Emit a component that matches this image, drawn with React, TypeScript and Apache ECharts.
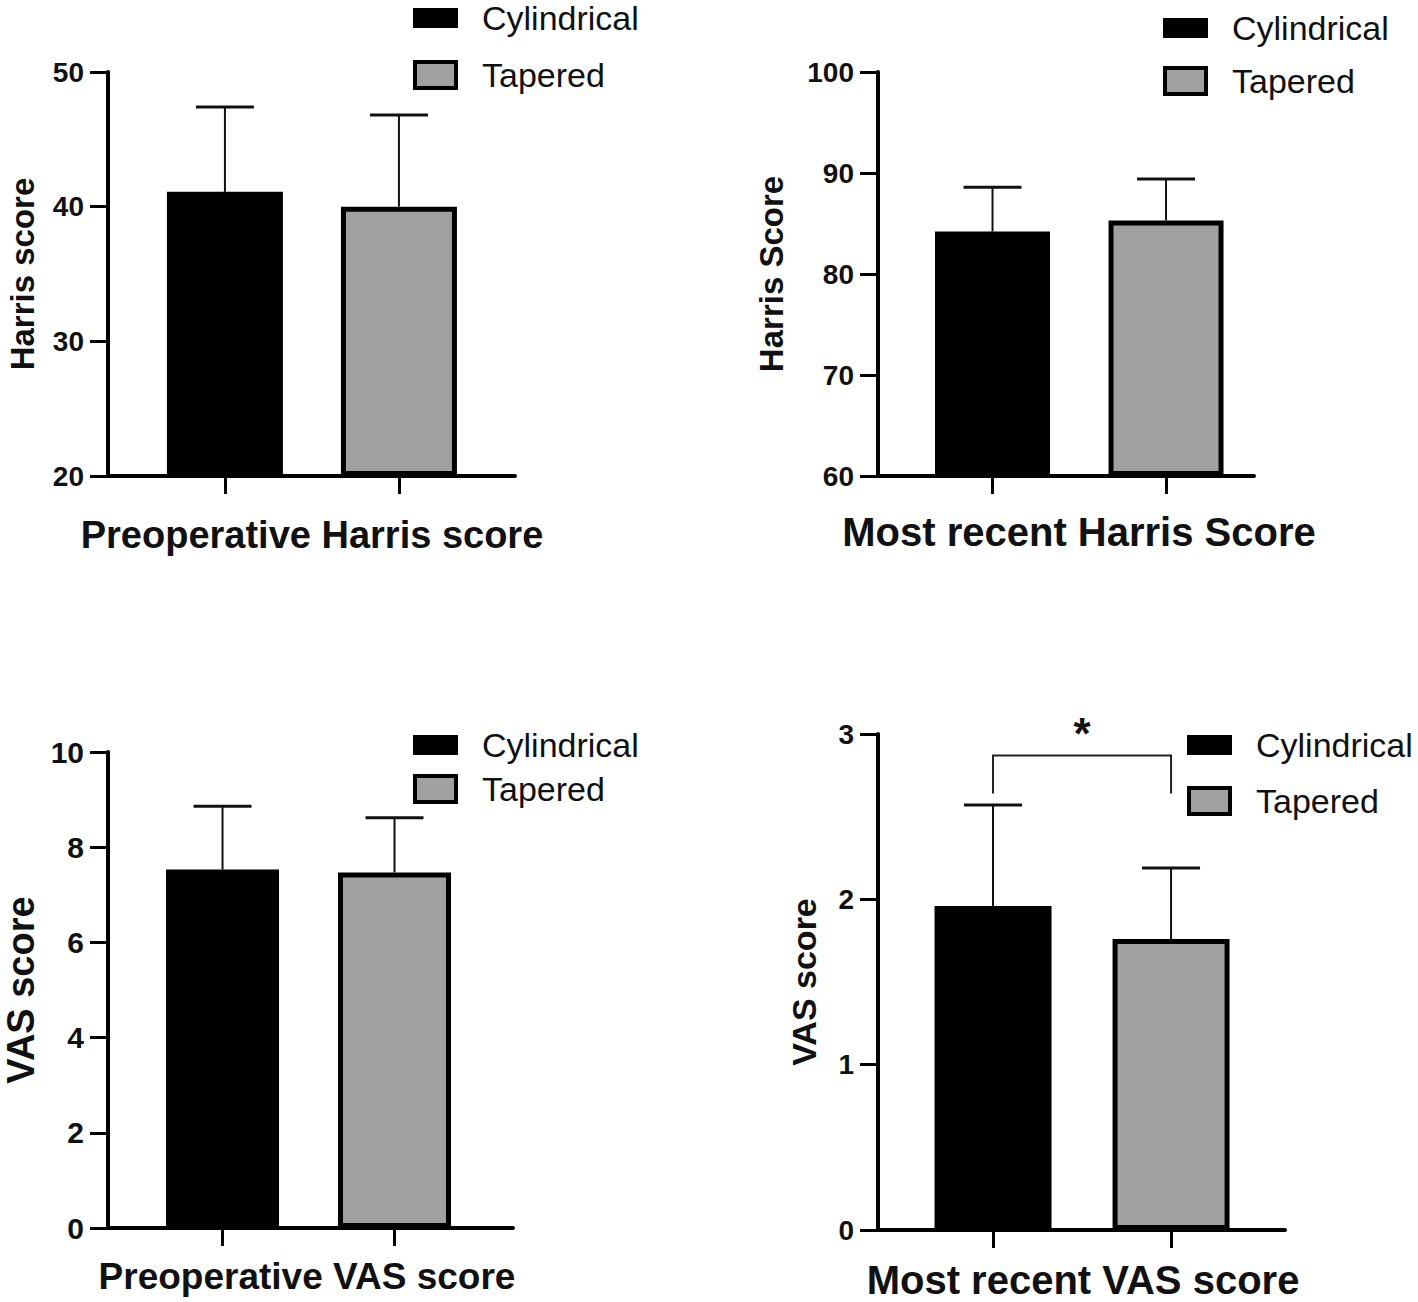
import React, { useEffect, useRef } from "react";
import * as echarts from "echarts";

// ---------- data ----------
const groups = ["Cylindrical", "Tapered"];

const preHarrisMean = [41.1, 40.0];
const preHarrisSD = [6.3, 6.8];

const recentHarrisMean = [84.2, 85.3];
const recentHarrisSD = [4.4, 4.1];

const preVasMean = [7.53, 7.47];
const preVasSD = [1.33, 1.15];

const recentVasMean = [1.96, 1.76];
const recentVasSD = [0.61, 0.43];

// significance bracket on the most recent VAS panel: [top, leg end]
const vasBracket = [2.87, 2.64];
const vasBracketLabel = "*";

const panelTitles = [
  "Preoperative Harris score",
  "Most recent Harris Score",
  "Preoperative VAS score",
  "Most recent VAS score",
];
const yAxisNames = ["Harris score", "Harris Score", "VAS score", "VAS score"];
const yMins = [20, 60, 0, 0];
const yMaxs = [50, 100, 10, 3];
const yIntervals = [10, 10, 2, 1];

const means = [preHarrisMean, recentHarrisMean, preVasMean, recentVasMean];
const sds = [preHarrisSD, recentHarrisSD, preVasSD, recentVasSD];

// ---------- layout (pixels) ----------
const layout = [
  { left: 108, top: 72, width: 407, height: 404, xMin: -0.672, xMax: 1.667, barW: 116, cap: 29,
    yGap: 69, yFont: 33, tickFont: 28, titleX: 312, titleY: 535, titleFont: 38,
    legLeft: 413, legTop: 1, legGap: 23 },
  { left: 878, top: 72, width: 376, height: 404, xMin: -0.66, xMax: 1.507, barW: 115, cap: 29,
    yGap: 90, yFont: 33, tickFont: 28, titleX: 1079, titleY: 532, titleFont: 40,
    legLeft: 1163, legTop: 11, legGap: 19 },
  { left: 108, top: 752, width: 405, height: 476, xMin: -0.666, xMax: 1.689, barW: 113, cap: 29,
    yGap: 68, yFont: 38, tickFont: 30, titleX: 307, titleY: 1276, titleFont: 37,
    legLeft: 413, legTop: 728, legGap: 10 },
  { left: 878, top: 734, width: 407, height: 496, xMin: -0.646, xMax: 1.64, barW: 117, cap: 29,
    yGap: 57, yFont: 34, tickFont: 28, titleX: 1083, titleY: 1280, titleFont: 40,
    legLeft: 1187, legTop: 728, legGap: 22 },
];

const FONT = '"Liberation Sans", Arial, Helvetica, sans-serif';
const GRAY = "#a0a0a0";

function buildOption() {
  const grid = layout.map((L) => ({ left: L.left, top: L.top, width: L.width, height: L.height }));

  const xAxis = layout.map((L, i) => ({
    type: "value",
    gridIndex: i,
    min: L.xMin,
    max: L.xMax,
    axisLine: { show: true, onZero: false, lineStyle: { color: "#000", width: 4 } },
    axisTick: { show: true, customValues: [0, 1], length: 18, lineStyle: { color: "#000", width: 3 } },
    axisLabel: { show: false },
    splitLine: { show: false },
  }));

  const yAxis = layout.map((L, i) => ({
    type: "value",
    gridIndex: i,
    min: yMins[i],
    max: yMaxs[i],
    interval: yIntervals[i],
    startValue: yMins[i],
    name: yAxisNames[i],
    nameLocation: "middle",
    nameRotate: 90,
    nameGap: L.yGap,
    nameTextStyle: { fontSize: L.yFont, fontWeight: "bold", color: "#111", fontFamily: FONT },
    axisLine: { show: true, onZero: false, lineStyle: { color: "#000", width: 4 } },
    axisTick: { show: true, length: 18, lineStyle: { color: "#000", width: 3 } },
    axisLabel: { fontSize: L.tickFont, fontWeight: "bold", color: "#111", margin: 24, fontFamily: FONT },
    splitLine: { show: false },
  }));

  const series: any[] = [];
  layout.forEach((L, i) => {
    series.push({
      type: "bar",
      name: groups[0],
      xAxisIndex: i,
      yAxisIndex: i,
      barWidth: L.barW,
      barGap: "-100%",
      clip: true,
      data: [[0, means[i][0]]],
      itemStyle: { color: "#000", borderColor: "#000", borderWidth: 3 },
      z: 2,
    });
    series.push({
      type: "bar",
      name: groups[1],
      xAxisIndex: i,
      yAxisIndex: i,
      barWidth: L.barW,
      barGap: "-100%",
      clip: true,
      data: [[1, means[i][1]]],
      itemStyle: { color: GRAY, borderColor: "#000", borderWidth: 5 },
      z: 2,
    });
    series.push({
      type: "custom",
      name: "err" + i,
      xAxisIndex: i,
      yAxisIndex: i,
      z: 3,
      encode: { x: 0, y: [1, 2] },
      data: groups.map((g, k) => [k, means[i][k], means[i][k] + sds[i][k]]),
      renderItem: (params: any, api: any) => {
        const x = api.value(0);
        const p0 = api.coord([x, api.value(1)]);
        const p1 = api.coord([x, api.value(2)]);
        return {
          type: "group",
          children: [
            { type: "line", shape: { x1: p0[0], y1: p0[1], x2: p1[0], y2: p1[1] }, style: { stroke: "#111", lineWidth: 2 } },
            { type: "line", shape: { x1: p1[0] - L.cap, y1: p1[1], x2: p1[0] + L.cap, y2: p1[1] }, style: { stroke: "#111", lineWidth: 3 } },
          ],
        };
      },
    });
  });

  // significance bracket on panel 4
  series.push({
    type: "custom",
    name: "sig",
    xAxisIndex: 3,
    yAxisIndex: 3,
    z: 3,
    encode: { x: [0, 1], y: [2, 3] },
    data: [[0, 1, vasBracket[0], vasBracket[1]]],
    renderItem: (params: any, api: any) => {
      const a = api.coord([api.value(0), api.value(3)]);
      const b = api.coord([api.value(0), api.value(2)]);
      const c = api.coord([api.value(1), api.value(2)]);
      const d = api.coord([api.value(1), api.value(3)]);
      return {
        type: "group",
        children: [
          { type: "polyline", shape: { points: [a, b, c, d] }, style: { stroke: "#222", lineWidth: 2, fill: "none" } },
          {
            type: "text",
            x: (b[0] + c[0]) / 2,
            y: b[1] - 22,
            style: { text: vasBracketLabel, font: `bold 44px ${FONT}`, fill: "#111", align: "center", verticalAlign: "middle" },
          },
        ],
      };
    },
  });

  const legend = layout.map((L) => ({
    orient: "vertical",
    left: L.legLeft,
    top: L.legTop,
    padding: 0,
    itemWidth: 41,
    itemHeight: 26,
    itemGap: L.legGap,
    selectedMode: false,
    itemStyle: { borderWidth: 4, borderColor: "#000" },
    data: [
      { name: groups[0], icon: "path://M0 0H41V16H0Z" },
      { name: groups[1], icon: "rect" },
    ],
    textStyle: { fontSize: 34, color: "#111", fontFamily: FONT, padding: [0, 0, 0, 21] },
  }));

  const graphic = layout.map((L, i) => ({
    type: "text",
    x: L.titleX,
    y: L.titleY,
    style: {
      text: panelTitles[i],
      font: `bold ${L.titleFont}px ${FONT}`,
      fill: "#111",
      align: "center",
      verticalAlign: "middle",
      textAlign: "center",
      textVerticalAlign: "middle",
    },
  }));

  return {
    animation: false,
    backgroundColor: "#fff",
    textStyle: { fontFamily: FONT },
    grid,
    xAxis,
    yAxis,
    legend,
    series,
    graphic,
  };
}

export default function App() {
  const ref = useRef<HTMLDivElement>(null);
  useEffect(() => {
    document.body.style.margin = "0";
    if (!ref.current) return;
    const chart = echarts.init(ref.current, undefined, { renderer: "svg" });
    chart.setOption(buildOption() as any);
    return () => chart.dispose();
  }, []);
  return <div ref={ref} style={{ width: 1418, height: 1302, background: "#fff" }} />;
}
